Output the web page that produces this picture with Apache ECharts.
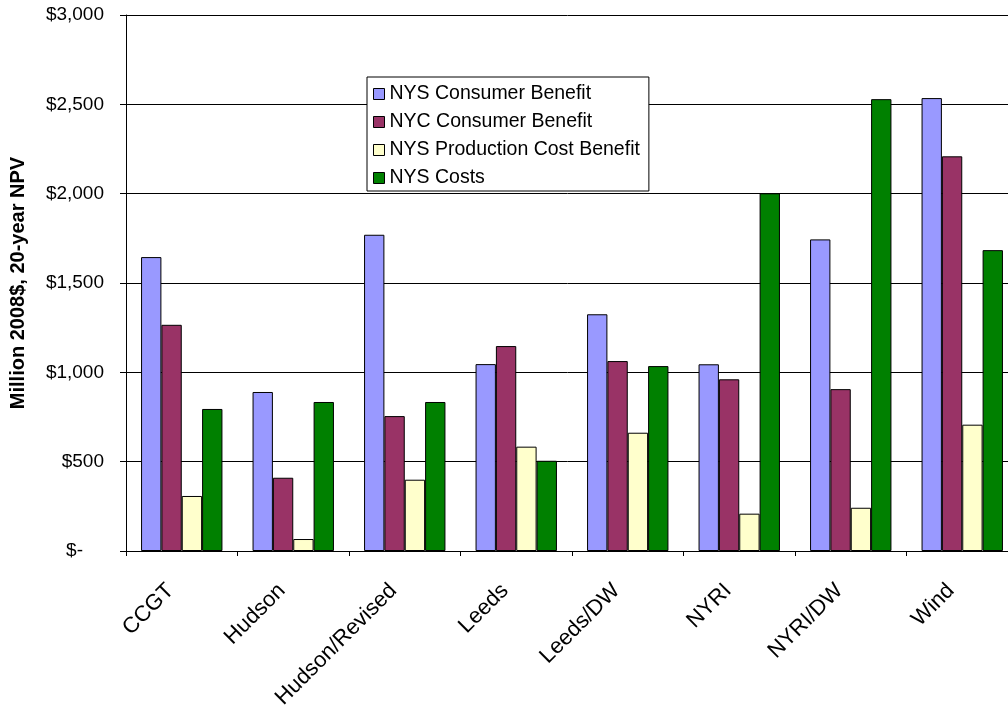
<!DOCTYPE html>
<html>
<head>
<meta charset="utf-8">
<script src="https://cdn.jsdelivr.net/npm/echarts@6/dist/echarts.min.js"></script>
<style>
  html, body { margin: 0; padding: 0; background: #fff; }
  #chart { width: 1008px; height: 711px; }
</style>
</head>
<body>
<div id="chart"></div>
<script>
// Scenario categories
const categories = ['CCGT', 'Hudson', 'Hudson/Revised', 'Leeds', 'Leeds/DW', 'NYRI', 'NYRI/DW', 'Wind'];

// Million 2008$, 20-year NPV
const nysConsumerBenefit = [1645, 890, 1770, 1046, 1325, 1045, 1744, 2535];
const nycConsumerBenefit = [1266, 410, 755, 1147, 1063, 961, 906, 2209];
const nysProductionCostBenefit = [308, 67, 399, 584, 662, 209, 242, 707];
const nysCosts = [795, 834, 834, 505, 1035, 2002, 2529, 1684];

const seriesNames = ['NYS Consumer Benefit', 'NYC Consumer Benefit', 'NYS Production Cost Benefit', 'NYS Costs'];
const seriesColors = ['#9999FF', '#993366', '#FFFFCC', '#008000'];
const seriesData = [nysConsumerBenefit, nycConsumerBenefit, nysProductionCostBenefit, nysCosts];

const FONT = '"Liberation Sans", Arial, sans-serif';

function money(v) {
  if (v === 0) return '{z|$-}';
  return '$' + v.toLocaleString('en-US');
}

const chart = echarts.init(document.getElementById('chart'), null, { renderer: 'canvas' });

chart.setOption({
  backgroundColor: '#ffffff',
  animation: false,
  textStyle: { fontFamily: FONT, color: '#000' },
  grid: { left: 126, top: 15, width: 892, height: 536, containLabel: false, outerBoundsMode: 'none' },
  legend: {
    orient: 'vertical',
    left: 367,
    top: 77,
    padding: [7, 9, 3, 6],
    itemGap: 8,
    itemWidth: 11,
    itemHeight: 11,
    icon: 'rect',
    backgroundColor: '#ffffff',
    borderColor: '#000',
    borderWidth: 1,
    borderRadius: 0,
    itemStyle: { borderColor: '#000', borderWidth: 1 },
    textStyle: { fontFamily: FONT, fontSize: 19.5, color: '#000', lineHeight: 20, padding: [0, 0, 0, 0] },
    data: seriesNames
  },
  xAxis: {
    type: 'category',
    data: categories,
    boundaryGap: true,
    axisLine: { show: true, lineStyle: { color: '#000', width: 1 } },
    axisTick: { show: true, length: 5, alignWithLabel: false, lineStyle: { color: '#000' } },
    axisLabel: {
      interval: 0,
      rotate: 45,
      margin: 25,
      padding: [0, 16, 0, 0],
      fontFamily: FONT,
      fontSize: 22,
      color: '#000'
    },
    splitLine: { show: false }
  },
  yAxis: {
    type: 'value',
    min: 0,
    max: 3000,
    interval: 500,
    name: 'Million 2008$, 20-year NPV',
    nameLocation: 'middle',
    nameRotate: 90,
    nameGap: 98,
    nameTextStyle: { fontFamily: FONT, fontSize: 20, fontWeight: 'bold', color: '#000' },
    axisLine: { show: true, lineStyle: { color: '#000', width: 1 } },
    axisTick: { show: true, length: 6, lineStyle: { color: '#000' } },
    axisLabel: {
      margin: 22,
      fontFamily: FONT,
      fontSize: 19,
      color: '#000',
      formatter: money,
      rich: { z: { fontFamily: FONT, fontSize: 19, color: '#000', padding: [0, 21, 0, 0] } }
    },
    splitLine: { show: true, lineStyle: { color: '#000', width: 1 } }
  },
  series: seriesNames.map((name, i) => ({
    name: name,
    type: 'bar',
    data: seriesData[i],
    barGap: '0%',
    barCategoryGap: '27%',
    itemStyle: { color: seriesColors[i], borderColor: '#000', borderWidth: 1 }
  }))
});
</script>
</body>
</html>
